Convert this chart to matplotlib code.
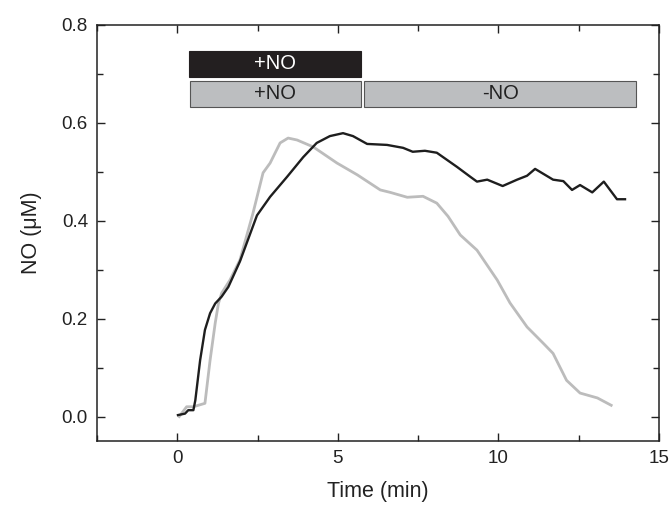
import matplotlib.pyplot as plt
from matplotlib.patches import Rectangle
from matplotlib.ticker import MultipleLocator

plt.rcParams['font.family'] = ['Liberation Sans', 'DejaVu Sans']

# black trace (time in min, NO in uM)
t_black = [0.02, 0.24, 0.34, 0.5, 0.56, 0.71, 0.86, 1.02, 1.18, 1.38, 1.59, 1.95,
           2.48, 2.89, 3.42, 3.92, 4.34, 4.75, 5.16, 5.47, 5.91, 6.53, 7.03, 7.33,
           7.71, 8.08, 8.71, 9.12, 9.33, 9.65, 10.13, 10.58, 10.89, 11.14, 11.7,
           12.02, 12.29, 12.54, 12.92, 13.28, 13.69, 13.94]
no_black = [0.003, 0.006, 0.013, 0.013, 0.033, 0.115, 0.177, 0.211, 0.231, 0.245, 0.265, 0.317,
            0.411, 0.449, 0.490, 0.530, 0.559, 0.573, 0.579, 0.573, 0.557, 0.555, 0.549, 0.541,
            0.543, 0.539, 0.510, 0.490, 0.480, 0.484, 0.471, 0.484, 0.492, 0.506, 0.484,
            0.481, 0.463, 0.473, 0.458, 0.480, 0.444, 0.444]

# gray trace
t_gray = [0.06, 0.29, 0.5, 0.86, 1.02, 1.18, 1.28, 1.38, 1.64, 1.95, 2.35, 2.67, 2.89,
          3.2, 3.45, 3.73, 4.23, 4.97, 5.6, 6.32, 6.63, 7.16, 7.65, 8.08, 8.43,
          8.81, 9.33, 9.96, 10.36, 10.89, 11.42, 11.7, 12.12, 12.54, 13.08, 13.51]
no_gray = [0.0, 0.020, 0.020, 0.027, 0.115, 0.191, 0.231, 0.252, 0.279, 0.320, 0.414, 0.498, 0.518,
           0.559, 0.569, 0.565, 0.551, 0.518, 0.494, 0.463, 0.458, 0.448, 0.450, 0.436, 0.409,
           0.371, 0.340, 0.279, 0.232, 0.183, 0.148, 0.129, 0.074, 0.048, 0.038, 0.023]

# treatment bars
bar_start = [0.37, 0.40, 5.82]
bar_end = [5.71, 5.71, 14.29]
bar_row = [0.694, 0.633, 0.633]
bar_label = ['+NO', '+NO', '-NO']
bar_dark = [True, False, False]

fig = plt.figure(figsize=(6.71, 5.05), dpi=100)
ax = fig.add_axes([0.1446, 0.1267, 0.8376, 0.8238])

ax.plot(t_gray, no_gray, color='#bcbcbc', lw=2.0, solid_joinstyle='round')
ax.plot(t_black, no_black, color='#1e1e1e', lw=1.7, solid_joinstyle='round')

h = 0.053
for x0, x1, y0, lab, dark in zip(bar_start, bar_end, bar_row, bar_label, bar_dark):
    fc = '#231f20' if dark else '#bcbec0'
    ec = '#231f20' if dark else '#555555'
    ax.add_patch(Rectangle((x0, y0), x1 - x0, h, facecolor=fc, edgecolor=ec, lw=0.8))
    ax.text((x0 + x1) / 2, y0 + h / 2, lab, ha='center', va='center',
            fontsize=14.5, color='white' if dark else '#222222')

ax.set_xlim(-2.5, 15)
ax.set_ylim(-0.05, 0.8)
ax.xaxis.set_major_locator(MultipleLocator(5))
ax.xaxis.set_minor_locator(MultipleLocator(2.5))
ax.yaxis.set_major_locator(MultipleLocator(0.2))
ax.yaxis.set_minor_locator(MultipleLocator(0.1))
ax.yaxis.set_major_formatter(plt.FuncFormatter(lambda v, p: f'{v:.1f}'))
ax.tick_params(which='both', direction='in', top=True, right=True, labelsize=13.5,
               colors='#222222')
ax.tick_params(which='major', length=6, width=1, pad=6.5)
ax.tick_params(which='minor', length=4, width=1)
for s in ax.spines.values():
    s.set_linewidth(1.1)
    s.set_color('#222222')

ax.set_xlabel('Time (min)', fontsize=15.5, color='#222222', labelpad=10)
ax.set_ylabel('NO (μM)', fontsize=15.5, color='#222222', labelpad=14)

fig.savefig('out.png', dpi=100)
